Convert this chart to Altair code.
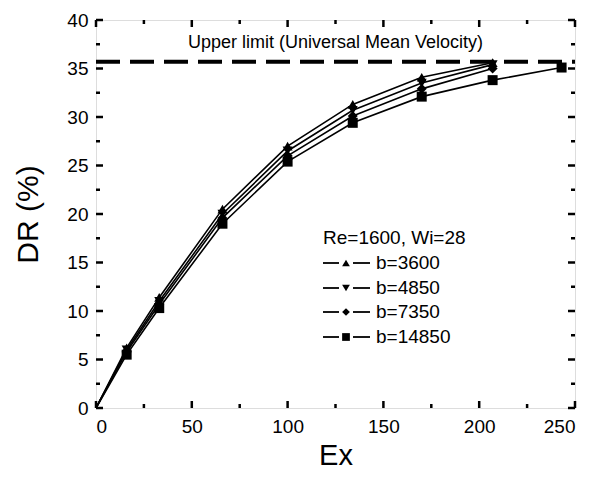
import altair as alt
import pandas as pd

# ---- data ----
ex_vals = [0, 16, 33, 66, 100, 134, 170, 207]
ex_long = [0, 16, 33, 66, 100, 134, 170, 207, 243]
dr_3600 = [0, 6.2, 11.4, 20.5, 27.0, 31.3, 34.1, 35.6]
dr_4850 = [0, 6.0, 11.0, 20.0, 26.5, 30.7, 33.5, 35.4]
dr_7350 = [0, 5.8, 10.7, 19.6, 26.0, 30.1, 32.9, 35.0]
dr_14850 = [0, 5.5, 10.3, 19.0, 25.4, 29.4, 32.1, 33.8, 35.1]
series_labels = ["b=3600", "b=4850", "b=7350", "b=14850"]
series_shapes = ["triangle-up", "triangle-down", "diamond", "square"]
upper_limit = 35.7
upper_text = "Upper limit (Universal Mean Velocity)"
legend_title = "Re=1600, Wi=28"
x_major = [0, 50, 100, 150, 200, 250]
x_minor = [25, 75, 125, 175, 225]
y_major = [0, 5, 10, 15, 20, 25, 30, 35, 40]
y_minor = [2.5, 7.5, 12.5, 17.5, 22.5, 27.5, 32.5, 37.5]

W, H = 479, 388
FONT = "Liberation Sans"

rows = []
for lab, xs, ys in zip(series_labels,
                       [ex_vals, ex_vals, ex_vals, ex_long],
                       [dr_3600, dr_4850, dr_7350, dr_14850]):
    for x, y in zip(xs, ys):
        rows.append({"Ex": x, "DR": y, "series": lab})
df = pd.DataFrame(rows)

xscale = alt.Scale(domain=[0, 250], nice=False, zero=False)
yscale = alt.Scale(domain=[0, 40], nice=False, zero=False)

base = alt.Chart(df)

axes = base.mark_point(opacity=0).encode(
    x=alt.X("Ex:Q", scale=xscale, title="Ex",
            axis=alt.Axis(values=x_major, tickSize=0, domain=False, grid=False,
                          labelFontSize=19, labelFont=FONT, labelColor="black",
                          labelPadding=9, titleFont=FONT, titleFontSize=29,
                          titleFontWeight="normal", titleColor="black", titlePadding=5)),
    y=alt.Y("DR:Q", scale=yscale, title="DR (%)",
            axis=alt.Axis(values=y_major, tickSize=0, domain=False, grid=False,
                          labelFontSize=19, labelFont=FONT, labelColor="black",
                          labelPadding=8, titleFont=FONT, titleFontSize=30,
                          titleFontWeight="normal", titleColor="black", titlePadding=23)),
)

lines = base.mark_line(color="black", strokeWidth=1.6).encode(
    x=alt.X("Ex:Q", scale=xscale),
    y=alt.Y("DR:Q", scale=yscale),
    detail="series:N",
)

points = base.transform_filter(alt.datum.Ex > 0).mark_point(
    filled=True, color="black", size=100, opacity=1
).encode(
    x=alt.X("Ex:Q", scale=xscale),
    y=alt.Y("DR:Q", scale=yscale),
    shape=alt.Shape("series:N", scale=alt.Scale(domain=series_labels, range=series_shapes),
                    legend=None),
    order=alt.Order("series:N"),
)

limit_df = pd.DataFrame({"DR": [upper_limit], "x0": [0], "x1": [250]})
limit = alt.Chart(limit_df).mark_rule(color="black", strokeWidth=4, strokeDash=[24, 10]).encode(
    y=alt.Y("DR:Q", scale=yscale),
    x=alt.X("x0:Q", scale=xscale),
    x2="x1:Q",
)
limit_text = alt.Chart(pd.DataFrame({"t": [upper_text]})).mark_text(
    font=FONT, fontSize=18, color="black", align="center", baseline="middle"
).encode(text="t:N", x=alt.value(W / 2), y=alt.value(23))

# inward ticks
def tick_layer(vals, field, pos, p2):
    d = pd.DataFrame({field: vals})
    if field == "Ex":
        return alt.Chart(d).mark_rule(color="black", strokeWidth=2.5).encode(
            x=alt.X("Ex:Q", scale=xscale), y=alt.value(pos), y2=alt.value(p2))
    return alt.Chart(d).mark_rule(color="black", strokeWidth=2.5).encode(
        y=alt.Y("DR:Q", scale=yscale), x=alt.value(pos), x2=alt.value(p2))

ticks = [
    tick_layer(x_major, "Ex", H, H - 7), tick_layer(x_minor, "Ex", H, H - 4),
    tick_layer(x_major, "Ex", 0, 7), tick_layer(x_minor, "Ex", 0, 4),
    tick_layer(y_major, "DR", 0, 7), tick_layer(y_minor, "DR", 0, 4),
    tick_layer(y_major, "DR", W, W - 7), tick_layer(y_minor, "DR", W, W - 4),
]

# legend
legend_layers = [
    alt.Chart(pd.DataFrame({"t": [legend_title]})).mark_text(
        font=FONT, fontSize=19, color="black", align="left", baseline="middle"
    ).encode(text="t:N", x=alt.value(227), y=alt.value(218))
]
row_y = [243, 268, 292, 317]
for lab, shp, yy in zip(series_labels, series_shapes, row_y):
    d = pd.DataFrame({"t": [lab]})
    c = alt.Chart(d)
    legend_layers += [
        c.mark_rule(color="black", strokeWidth=1.8).encode(
            x=alt.value(227), x2=alt.value(243), y=alt.value(yy)),
        c.mark_rule(color="black", strokeWidth=1.8).encode(
            x=alt.value(257), x2=alt.value(274), y=alt.value(yy)),
        c.mark_point(shape=shp, filled=True, color="black", size=60, opacity=1).encode(
            x=alt.value(250), y=alt.value(yy)),
        c.mark_text(font=FONT, fontSize=19, color="black", align="left",
                    baseline="middle").encode(text="t:N", x=alt.value(280), y=alt.value(yy)),
    ]

chart = alt.layer(axes, limit, limit_text, lines, points, *ticks, *legend_layers).properties(
    width=W, height=H,
    autosize=alt.AutoSizeParams(type="none"),
    padding={"left": 88, "top": 12, "right": 10, "bottom": 62},
).configure_view(stroke="black", strokeWidth=3).configure(background="white")

chart.save("out.html", embed_options={"renderer": "svg", "actions": False})
